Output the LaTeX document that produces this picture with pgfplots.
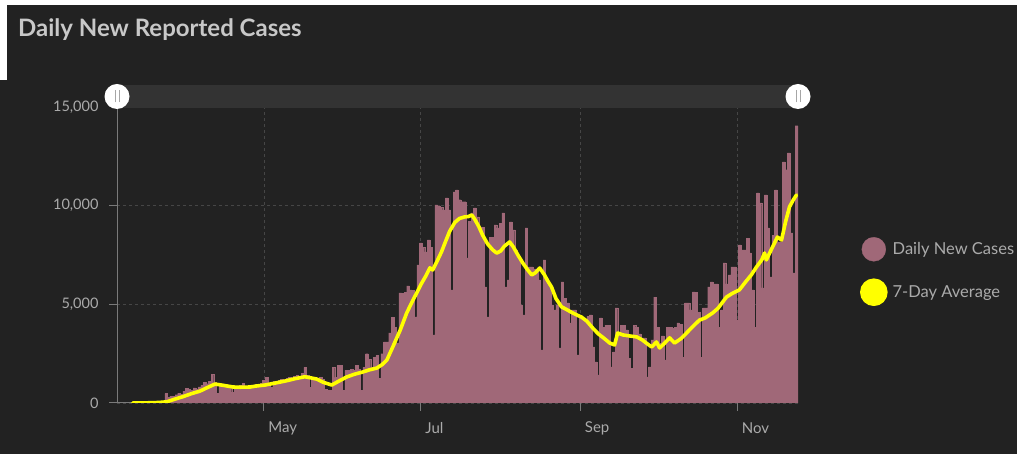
\documentclass[border=0pt]{standalone}
\usepackage{pgfplots}
\pgfplotsset{compat=1.18}
\usepackage{pgfplotstable}
\usepackage{fontspec}
\setmainfont{Lato}
\definecolor{bg}{HTML}{222222}
\definecolor{mauve}{HTML}{A06878}
\definecolor{ylw}{HTML}{FFFF00}
\definecolor{txt}{HTML}{ABABAB}
\definecolor{titlec}{HTML}{C8C8C8}
\definecolor{gridc}{HTML}{464646}
\definecolor{axc}{HTML}{7A7A7A}
\definecolor{slider}{HTML}{333333}

\pgfplotstableread{
day cases
10 5
11 10
12 10
13 15
14 20
15 25
16 30
17 40
18 50
19 60
20 70
21 80
22 100
23 480
24 300
25 350
26 330
27 420
28 500
29 450
30 600
31 750
32 700
33 650
34 760
35 720
36 820
37 900
38 1050
39 980
40 1100
41 1450
42 1050
43 500
44 850
45 800
46 820
47 780
48 860
49 550
50 800
51 830
52 900
53 1000
54 850
55 820
56 760
57 900
58 950
59 850
60 1000
61 1150
62 1300
63 1000
64 800
65 1100
66 1050
67 1150
68 1200
69 1150
70 1250
71 1300
72 1200
73 1350
74 1400
75 1350
76 1500
77 1800
78 1400
79 800
80 1300
81 1300
82 1250
83 1300
84 1200
85 700
86 650
87 650
88 1800
89 1300
90 1900
91 1900
92 650
93 1650
94 1650
95 1700
96 1650
97 1900
98 1700
99 650
100 1800
101 2500
102 2200
103 1800
104 2300
105 2400
106 1250
107 2500
108 3100
109 3100
110 3550
111 4350
112 3850
113 3050
114 5580
115 5550
116 5600
117 5930
118 5730
119 5700
120 4360
121 7000
122 8110
123 7900
124 7660
125 8260
126 7900
127 3450
128 10040
129 10000
130 9900
131 9790
132 10400
133 9790
134 5730
135 10700
136 10800
137 10300
138 10200
139 10200
140 7350
141 9200
142 9640
143 9890
144 9430
145 8920
146 8900
147 5880
148 4360
149 8410
150 8400
151 9030
152 8870
153 9100
154 9640
155 5880
156 6240
157 9180
158 8770
159 7760
160 7400
161 4970
162 4460
163 8870
164 6900
165 6900
166 6800
167 6740
168 6240
169 2690
170 7250
171 6240
172 6000
173 4970
174 4720
175 4970
176 2790
177 6140
178 5320
179 5070
180 4060
181 4720
182 4720
183 2440
184 4310
185 4310
186 4200
187 4400
188 4460
189 2840
190 2080
191 1420
192 4310
193 3850
194 3950
195 3950
196 1830
197 2590
198 4820
199 3450
200 3950
201 3950
202 3700
203 2280
204 1770
205 3950
206 3850
207 3500
208 3300
209 3300
210 1320
211 1830
212 3200
213 5370
214 3850
215 3040
216 3400
217 2180
218 3850
219 3850
220 3800
221 3850
222 4060
223 4000
224 2330
225 5070
226 5070
227 4720
228 5630
229 5600
230 4610
231 2330
232 4820
233 4820
234 5880
235 6140
236 6040
237 6040
238 3850
239 4720
240 7100
241 6040
242 6490
243 6900
244 6900
245 4210
246 8010
247 7760
248 7760
249 8360
250 7610
251 5730
252 3850
253 10650
254 10140
255 5830
256 10550
257 8870
258 6390
259 8500
260 10800
261 8160
262 8160
263 12220
264 11820
265 12680
266 8620
267 6590
268 14050
}\daily

\pgfplotstableread{
day avg
10 0
16 10
20 25
23.3 60
26 180
29.5 320
33 480
36.1 600
39 780
42 960
45 900
49 810
52 800
55.6 810
58 860
61.4 910
65 1000
69.9 1130
73 1230
76.9 1330
79 1280
81.6 1210
84 1050
87.4 910
90 1100
93.2 1320
96 1450
99.4 1570
102 1680
104.9 1770
107 1950
108.8 2180
111.1 2840
114 3700
116.5 4560
118.5 5100
120.4 5580
122 6000
124 6450
125.5 6850
126.6 6740
128 7100
130 7650
131.5 8150
133.2 8700
135.2 9150
137 9350
139 9430
140.5 9450
141.8 9530
143 9300
144.5 8950
146 8510
148 8050
150 7750
151.5 7600
153 7700
154.5 7950
156.5 8160
158 7900
159.5 7550
161.6 7100
163.5 6750
165.1 6490
166.5 6600
168.2 6840
170 6500
171.5 6150
172.8 5880
174.5 5300
176.7 4870
178.5 4750
180.5 4600
182.6 4460
184.5 4350
186.5 4150
188.8 3800
191 3500
193 3300
195.4 3040
197.3 2940
198.5 3550
200.5 3450
203 3400
205.9 3350
208 3200
210 3000
211.7 2840
213.6 3090
214.8 2790
216.5 3000
218.7 3300
220.6 3040
223 3250
225.3 3550
227.5 3850
230.3 4200
232.5 4310
235.4 4560
237.5 4800
240.8 5370
243 5550
245.8 5730
248 6100
250.5 6500
252.5 6900
254.5 7250
255.6 7600
256.3 7250
258.5 7850
260.6 8410
262.2 8260
263.8 9200
265.3 9940
266.8 10300
268 10540
}\avg

\begin{document}
\begin{tikzpicture}[x=1pt,y=1pt]
\fill[bg] (0,0) rectangle (1017,454);
\fill[white] (0,449) rectangle (1017,454);
\fill[white] (0,374) rectangle (7,454);
\node[anchor=base west, inner sep=0pt, text=titlec, font=\fontsize{24}{28}\selectfont\bfseries] at (18,417) {Daily New Reported Cases};
\begin{axis}[
  at={(117pt,51pt)}, anchor=south west,
  scale only axis, width=681pt, height=296pt,
  xmin=3.9, xmax=268.6, ymin=0, ymax=15000,
  axis lines*=left,
  axis line style={axc, line width=1pt, -},
  tick style={axc, line width=1pt},
  tick align=outside,
  major tick length=8pt,
  xtick={61,122,184,245},
  xticklabels={May,Jul,Sep,Nov},
  ytick={0,5000,10000,15000},
  grid=major,
  grid style={gridc, dashed, line width=0.8pt},
  yticklabel style={text=txt, font=\fontsize{14.5}{16}\selectfont, xshift=-7pt},
  xticklabel style={text=txt, font=\fontsize{15}{16}\selectfont, anchor=west, xshift=1pt, yshift=-17pt},
  scaled y ticks=false,
  /pgf/number format/1000 sep={,},
  /pgf/number format/assume math mode=true,
  legend style={at={(1.0911,0.444)}, anchor=west, draw=none, fill=none,
    inner sep=0pt, outer sep=0pt,
    nodes={inner sep=1pt, text=txt, font=\fontsize{16.5}{19}\selectfont},
    row sep=17pt, column sep=4pt},
  legend cell align=left,
]
\addplot[ybar, bar width=1, bar shift=0pt, fill=mauve, draw=mauve, line width=0.3pt,
  legend image code/.code={\fill[mauve] (12pt,0pt) circle (12pt);}]
  table[x=day, y=cases] {\daily};
\addlegendentry{Daily New Cases}
\addplot[ylw, line width=3.6pt, line join=round, line cap=round, mark=none,
  legend image code/.code={\fill[ylw] (12pt,0pt) circle (12pt);}]
  table[x=day, y=avg] {\avg};
\addlegendentry{7-Day Average}
\end{axis}
\fill[slider] (117,346) rectangle (798,369);
\foreach \cx/\cy in {117/357.5, 798/357.5}{
  \fill[white] (\cx,\cy) circle (12.5);
  \draw[gray!70, line width=1pt] (\cx-2,\cy-6) -- (\cx-2,\cy+6);
  \draw[gray!70, line width=1pt] (\cx+2,\cy-6) -- (\cx+2,\cy+6);
}
\end{tikzpicture}
\end{document}
